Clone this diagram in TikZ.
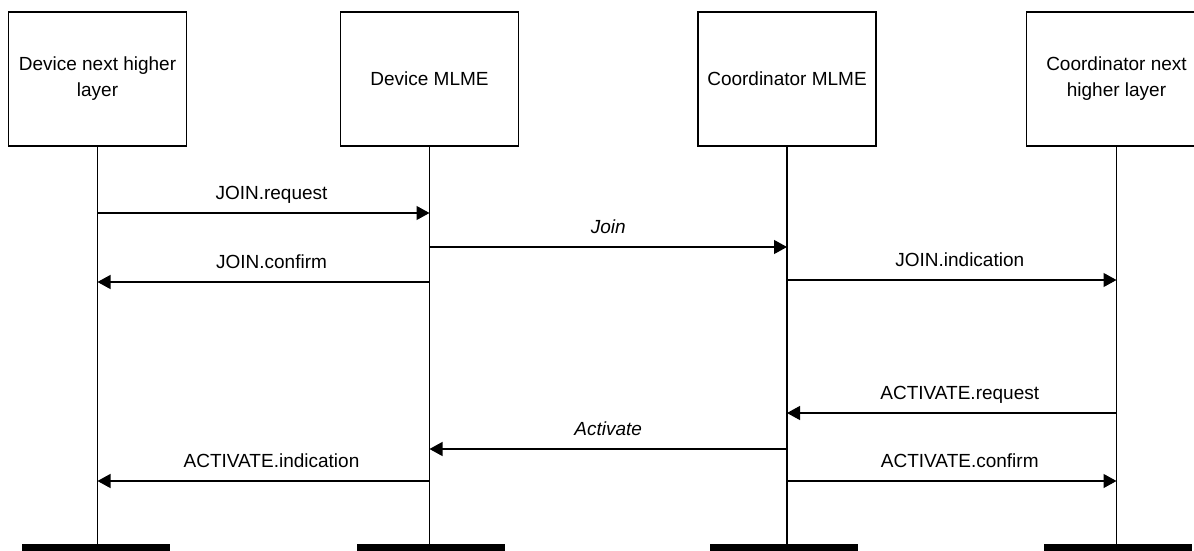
\documentclass[tikz,border=0pt]{standalone}
\usepackage{fontspec}
\setmainfont{Liberation Sans}
\usetikzlibrary{arrows.meta}
\tikzset{
  entity/.style={draw, line width=0.6pt, minimum width=89pt, minimum height=67pt,
    align=center, inner sep=2pt, font=\fontsize{9.5}{13}\selectfont},
  endbar/.style={fill=black, inner sep=0pt, minimum width=74pt, minimum height=4pt},
  life/.style={line width=0.6pt},
  msg/.style={line width=0.6pt, -{Triangle[length=6.5pt,width=7pt]}},
  prim/.style={anchor=base, yshift=7pt, xshift=4pt, font=\fontsize{9.5}{13}\selectfont},
  sig/.style={anchor=base, yshift=7pt, font=\fontsize{9.5}{13}\selectfont\itshape},
}
\begin{document}
\begin{tikzpicture}[x=0.5pt, y=-0.5pt]
  \useasboundingbox (0,0) rectangle (1194,551);
  \clip (0,0) rectangle (1194,551);
  % entities
  \node[entity] (dnhl) at (97.5,79) {Device next higher\\layer};
  \node[entity] (dmlme) at (429.5,79) {Device MLME};
  \node[entity] (cmlme) at (787,79) {Coordinator MLME};
  \node[entity, minimum width=90pt] (cnhl) at (1116.5,79) {Coordinator next\\higher layer};
  \node[endbar] (dnhlEnd) at (96,548) {};
  \node[endbar] (dmlmeEnd) at (431,548) {};
  \node[endbar] (cmlmeEnd) at (784,548) {};
  \node[endbar] (cnhlEnd) at (1118,548) {};
  % lifelines
  \draw[life] (dnhl.south) -- (dnhl.south |- dnhlEnd.north);
  \draw[life] (dmlme.south) -- (dmlme.south |- dmlmeEnd.north);
  \draw[life] (cmlme.south) -- (cmlme.south |- cmlmeEnd.north);
  \draw[life] (cnhl.south) -- (cnhl.south |- cnhlEnd.north);
  % message rows
  \coordinate (jreq) at (0,213);
  \coordinate (join) at (0,247);
  \coordinate (jcnf) at (0,282);
  \coordinate (jind) at (0,280);
  \coordinate (areq) at (0,413);
  \coordinate (actv) at (0,449);
  \coordinate (aind) at (0,481);
  \coordinate (acnf) at (0,481);
  \draw[msg] (dnhl |- jreq) -- (dmlme |- jreq) node[prim, midway] {JOIN.request};
  \draw[msg] (dmlme |- join) -- (cmlme |- join) node[sig, midway] {Join};
  \draw[msg] (dmlme |- jcnf) -- (dnhl |- jcnf) node[prim, midway] {JOIN.confirm};
  \draw[msg] (cmlme |- jind) -- (cnhl |- jind) node[prim, midway] {JOIN.indication};
  \draw[msg] (cnhl |- areq) -- (cmlme |- areq) node[prim, midway] {ACTIVATE.request};
  \draw[msg] (cmlme |- actv) -- (dmlme |- actv) node[sig, midway] {Activate};
  \draw[msg] (dmlme |- aind) -- (dnhl |- aind) node[prim, midway] {ACTIVATE.indication};
  \draw[msg] (cmlme |- acnf) -- (cnhl |- acnf) node[prim, midway] {ACTIVATE.confirm};
\end{tikzpicture}
\end{document}
